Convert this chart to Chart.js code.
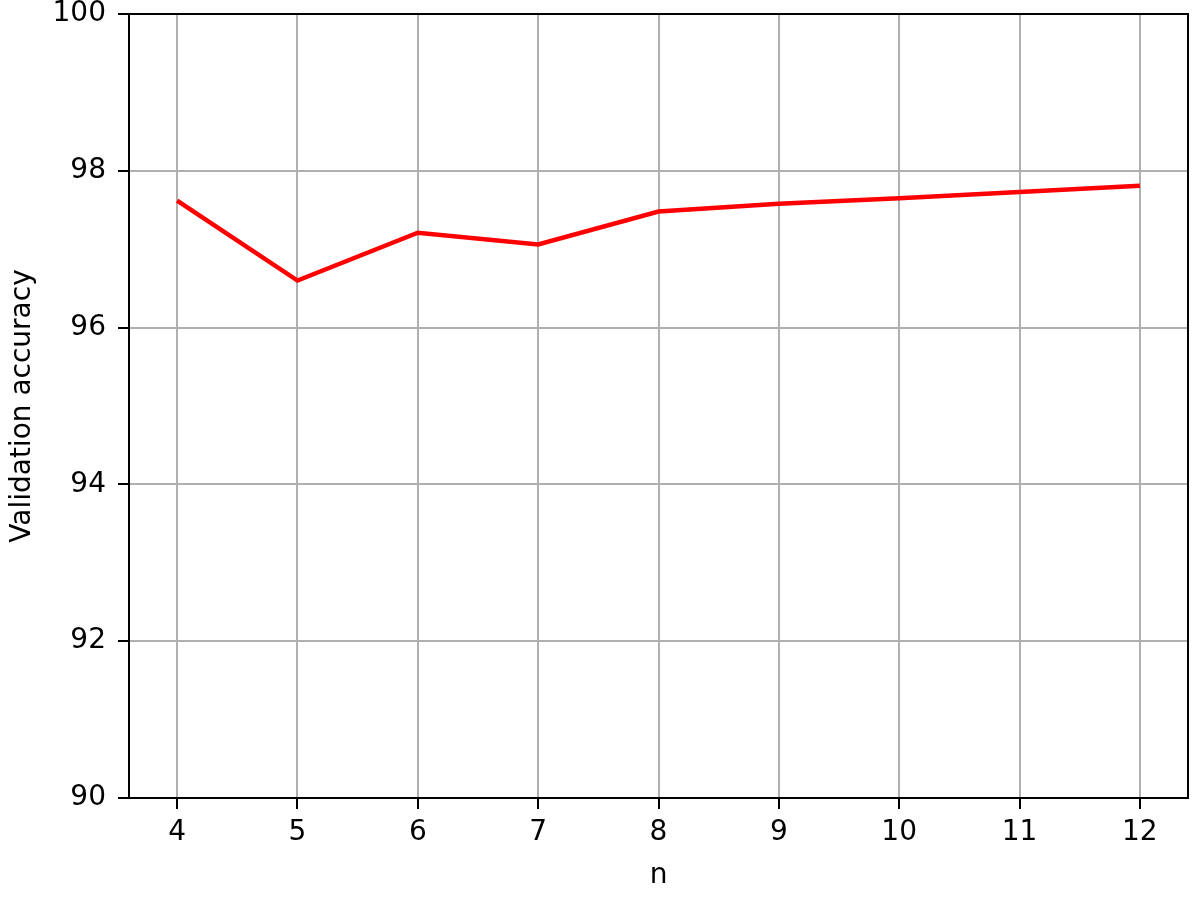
<!DOCTYPE html>
<html>
<head>
<meta charset="utf-8">
<script src="https://cdn.jsdelivr.net/npm/chart.js@4/dist/chart.umd.min.js"></script>
<style>
  html, body { margin: 0; padding: 0; background: #fff; }
  #wrap { width: 1196px; height: 911px; }
</style>
</head>
<body>
<div id="wrap"><canvas id="grafico"></canvas></div>
<script>
// valores
const nValues = [4, 5, 6, 7, 8, 9, 10, 11, 12];
const accuracy = [97.62, 96.60, 97.21, 97.06, 97.48, 97.58, 97.65, 97.73, 97.81];
const xTicks = [4, 5, 6, 7, 8, 9, 10, 11, 12];
const yTicks = [90, 92, 94, 96, 98, 100];

const fonte = { family: 'DejaVu Sans', size: 28 };

// moldura em volta da área do gráfico (topo e direita)
const moldura = {
  id: 'moldura',
  afterDraw(chart) {
    const { ctx, chartArea: a } = chart;
    ctx.save();
    ctx.strokeStyle = '#000';
    ctx.lineWidth = 2;
    ctx.strokeRect(a.left, a.top, a.right - a.left, a.bottom - a.top);
    ctx.restore();
  }
};

new Chart(document.getElementById('grafico'), {
  type: 'line',
  data: {
    datasets: [{
      data: nValues.map((n, i) => ({ x: n, y: accuracy[i] })),
      borderColor: '#ff0000',
      borderWidth: 4.5,
      pointRadius: 0,
      fill: false,
      tension: 0
    }]
  },
  options: {
    responsive: true,
    maintainAspectRatio: false,
    animation: false,
    layout: { padding: { top: 14, right: 8, left: 0, bottom: 0 } },
    plugins: { legend: { display: false }, tooltip: { enabled: false } },
    scales: {
      x: {
        type: 'linear',
        min: 3.6,
        max: 12.4,
        afterBuildTicks: s => { s.ticks = xTicks.map(v => ({ value: v })); },
        afterFit: s => { s.height = 113; },
        grid: { color: '#b0b0b0', lineWidth: 2, tickLength: 11, tickColor: '#000', tickWidth: 2 },
        border: { color: '#000', width: 2 },
        ticks: { color: '#000', font: fonte, padding: 7, maxRotation: 0 },
        title: { display: true, text: 'n', color: '#000', font: fonte, padding: { top: 0, bottom: 18 } }
      },
      y: {
        min: 90,
        max: 100,
        afterBuildTicks: s => { s.ticks = yTicks.map(v => ({ value: v })); },
        afterFit: s => { s.width = 129; s.paddingTop = 0; s.paddingBottom = 0; },
        grid: { color: '#b0b0b0', lineWidth: 2, tickLength: 11, tickColor: '#000', tickWidth: 2 },
        border: { color: '#000', width: 2 },
        ticks: { color: '#000', font: fonte, padding: 12 },
        title: { display: true, text: 'Validation accuracy', color: '#000', font: fonte, padding: { top: 6, bottom: 0 } }
      }
    }
  },
  plugins: [moldura]
});
</script>
</body>
</html>
